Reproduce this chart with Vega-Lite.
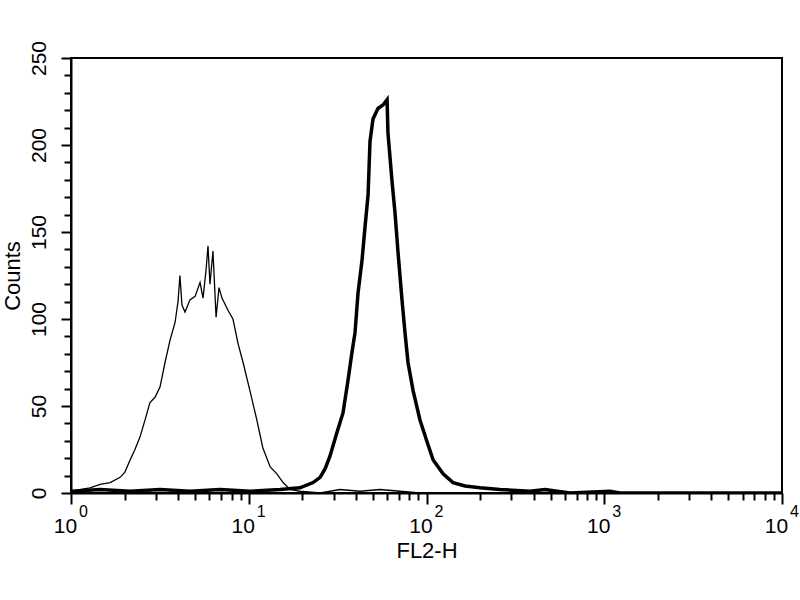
{
  "$schema": "https://vega.github.io/schema/vega-lite/v6.json",
  "width": 711,
  "height": 435,
  "autosize": "none",
  "padding": {"left": 71, "top": 58, "right": 18, "bottom": 107},
  "background": "white",
  "config": {
    "view": {"stroke": "black", "strokeWidth": 2},
    "font": "Liberation Sans",
    "axis": {
      "grid": false,
      "domainColor": "black",
      "domainWidth": 2,
      "tickColor": "black",
      "tickWidth": 2,
      "labelColor": "black",
      "labelFontSize": 21,
      "titleColor": "black",
      "titleFontSize": 22,
      "titleFontWeight": "normal"
    }
  },
  "encoding": {
    "x": {
      "field": "x",
      "type": "quantitative",
      "title": "FL2-H",
      "scale": {"type": "log", "domain": [1, 10000], "nice": false},
      "axis": {
        "values": [1,2,3,4,5,6,7,8,9,10,20,30,40,50,60,70,80,90,100,200,300,400,500,600,700,800,900,1000,2000,3000,4000,5000,6000,7000,8000,9000,10000],
        "labelExpr": "indexof([1,10,100,1000,10000], datum.value) >= 0 ? '10' : ''",
        "tickSize": {"condition": {"test": "indexof([1,10,100,1000,10000], datum.value) >= 0", "value": 11}, "value": 7},
        "labelOffset": -6,
        "labelPadding": 11,
        "labelFlush": false,
        "labelOverlap": false,
        "titlePadding": 4
      }
    },
    "y": {
      "field": "y",
      "type": "quantitative",
      "title": "Counts",
      "scale": {"domain": [0, 250], "nice": false},
      "axis": {
        "values": [0,10,20,30,40,50,60,70,80,90,100,110,120,130,140,150,160,170,180,190,200,210,220,230,240,250],
        "labelExpr": "datum.value % 50 === 0 ? datum.label : ''",
        "tickSize": {"condition": {"test": "datum.value % 50 === 0", "value": 10}, "value": 7},
        "labelAngle": 270,
        "labelAlign": "center",
        "labelBaseline": "bottom",
        "labelPadding": 12,
        "labelFlush": false,
        "labelOverlap": false,
        "titlePadding": 4
      }
    }
  },
  "layer": [
    {
      "data": {
        "values": [
          {"s": "control", "x": 1.01, "y": 0},
          {"s": "control", "x": 1.12, "y": 2},
          {"s": "control", "x": 1.28, "y": 3},
          {"s": "control", "x": 1.46, "y": 5},
          {"s": "control", "x": 1.66, "y": 6},
          {"s": "control", "x": 1.89, "y": 9},
          {"s": "control", "x": 2.01, "y": 12},
          {"s": "control", "x": 2.15, "y": 19},
          {"s": "control", "x": 2.29, "y": 25},
          {"s": "control", "x": 2.44, "y": 32},
          {"s": "control", "x": 2.61, "y": 42},
          {"s": "control", "x": 2.78, "y": 52},
          {"s": "control", "x": 2.97, "y": 55},
          {"s": "control", "x": 3.17, "y": 61},
          {"s": "control", "x": 3.38, "y": 75},
          {"s": "control", "x": 3.61, "y": 88},
          {"s": "control", "x": 3.85, "y": 98},
          {"s": "control", "x": 4.0, "y": 110},
          {"s": "control", "x": 4.1, "y": 125},
          {"s": "control", "x": 4.21, "y": 108},
          {"s": "control", "x": 4.38, "y": 104},
          {"s": "control", "x": 4.67, "y": 111},
          {"s": "control", "x": 4.99, "y": 113},
          {"s": "control", "x": 5.32, "y": 121},
          {"s": "control", "x": 5.53, "y": 112},
          {"s": "control", "x": 5.75, "y": 128},
          {"s": "control", "x": 5.9, "y": 142},
          {"s": "control", "x": 6.05, "y": 120},
          {"s": "control", "x": 6.29, "y": 139},
          {"s": "control", "x": 6.55, "y": 101},
          {"s": "control", "x": 6.8, "y": 118},
          {"s": "control", "x": 7.07, "y": 112},
          {"s": "control", "x": 7.64, "y": 105},
          {"s": "control", "x": 8.15, "y": 100},
          {"s": "control", "x": 8.7, "y": 86},
          {"s": "control", "x": 9.29, "y": 75},
          {"s": "control", "x": 10.2, "y": 58},
          {"s": "control", "x": 11.1, "y": 42},
          {"s": "control", "x": 12.0, "y": 26},
          {"s": "control", "x": 13.2, "y": 15},
          {"s": "control", "x": 14.4, "y": 11},
          {"s": "control", "x": 15.6, "y": 6},
          {"s": "control", "x": 17.1, "y": 2},
          {"s": "control", "x": 19.4, "y": 1},
          {"s": "control", "x": 25.2, "y": 0},
          {"s": "control", "x": 32.6, "y": 2},
          {"s": "control", "x": 42.3, "y": 1},
          {"s": "control", "x": 54.7, "y": 2},
          {"s": "control", "x": 71.0, "y": 1},
          {"s": "control", "x": 91.9, "y": 0},
          {"s": "control", "x": 259, "y": 0},
          {"s": "control", "x": 10000, "y": 0},
          {"s": "stained", "x": 1.01, "y": 1},
          {"s": "stained", "x": 1.46, "y": 2},
          {"s": "stained", "x": 2.15, "y": 1},
          {"s": "stained", "x": 3.17, "y": 2},
          {"s": "stained", "x": 4.67, "y": 1},
          {"s": "stained", "x": 6.89, "y": 2},
          {"s": "stained", "x": 10.2, "y": 1},
          {"s": "stained", "x": 15.0, "y": 2},
          {"s": "stained", "x": 19.4, "y": 3},
          {"s": "stained", "x": 23.0, "y": 6},
          {"s": "stained", "x": 25.2, "y": 9},
          {"s": "stained", "x": 26.9, "y": 14},
          {"s": "stained", "x": 28.6, "y": 21},
          {"s": "stained", "x": 31.4, "y": 35},
          {"s": "stained", "x": 33.9, "y": 46},
          {"s": "stained", "x": 36.2, "y": 65},
          {"s": "stained", "x": 38.1, "y": 81},
          {"s": "stained", "x": 39.6, "y": 92},
          {"s": "stained", "x": 41.2, "y": 115},
          {"s": "stained", "x": 43.4, "y": 134},
          {"s": "stained", "x": 45.1, "y": 153},
          {"s": "stained", "x": 46.9, "y": 171},
          {"s": "stained", "x": 48.1, "y": 202},
          {"s": "stained", "x": 50.0, "y": 215},
          {"s": "stained", "x": 53.3, "y": 221},
          {"s": "stained", "x": 56.9, "y": 223},
          {"s": "stained", "x": 60.0, "y": 226},
          {"s": "stained", "x": 60.7, "y": 207},
          {"s": "stained", "x": 64.0, "y": 179},
          {"s": "stained", "x": 66.5, "y": 161},
          {"s": "stained", "x": 69.2, "y": 138},
          {"s": "stained", "x": 72.8, "y": 111},
          {"s": "stained", "x": 75.7, "y": 92},
          {"s": "stained", "x": 78.7, "y": 75},
          {"s": "stained", "x": 84.0, "y": 59},
          {"s": "stained", "x": 91.9, "y": 42},
          {"s": "stained", "x": 101, "y": 29},
          {"s": "stained", "x": 109, "y": 19},
          {"s": "stained", "x": 124, "y": 11},
          {"s": "stained", "x": 141, "y": 6},
          {"s": "stained", "x": 165, "y": 4},
          {"s": "stained", "x": 200, "y": 3},
          {"s": "stained", "x": 259, "y": 2},
          {"s": "stained", "x": 382, "y": 1},
          {"s": "stained", "x": 464, "y": 2},
          {"s": "stained", "x": 641, "y": 0},
          {"s": "stained", "x": 1077, "y": 1},
          {"s": "stained", "x": 1227, "y": 0},
          {"s": "stained", "x": 10000, "y": 0}
        ]
      },
      "mark": {"type": "line", "color": "black", "strokeJoin": "miter", "clip": true},
      "encoding": {
        "strokeWidth": {
          "field": "s",
          "type": "nominal",
          "scale": {"domain": ["control", "stained"], "range": [1.3, 3.5]},
          "legend": null
        }
      }
    },
    {
      "data": {
        "values": [
          {"x": 1, "y": 0, "e": "0"},
          {"x": 10, "y": 0, "e": "1"},
          {"x": 100, "y": 0, "e": "2"},
          {"x": 1000, "y": 0, "e": "3"},
          {"x": 10000, "y": 0, "e": "4"}
        ]
      },
      "mark": {"type": "text", "align": "left", "baseline": "top", "dx": 8, "dy": 11, "fontSize": 16, "color": "black", "font": "Liberation Sans"},
      "encoding": {
        "text": {"field": "e"}
      }
    }
  ]
}
